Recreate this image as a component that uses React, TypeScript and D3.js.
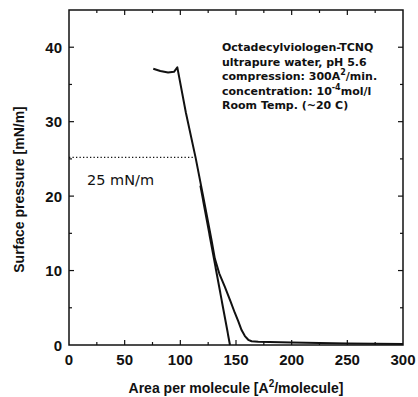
import { useEffect, useRef } from 'react';
import * as d3 from 'd3';

// compression isotherm (area in A^2/molecule, pressure in mN/m)
const isothermArea = [75.7, 82, 89, 94.3, 97.3, 105, 113.8, 121, 128, 131, 135, 140, 145, 149, 152, 155, 158, 161, 164, 170, 200, 250, 300];
const isothermPressure = [37.1, 36.8, 36.6, 36.7, 37.3, 31.2, 25.1, 19.6, 14.1, 11.6, 9.6, 7.8, 5.9, 4.3, 3.2, 2.0, 1.2, 0.7, 0.5, 0.45, 0.35, 0.2, 0.15];

// extrapolated steep part down to zero pressure
const tangentArea = [118, 144.6];
const tangentPressure = [21.4, 0];

// dotted reference level
const refPressure = 25.2;
const refAreaEnd = 112;
const refLabel = '25 mN/m';

const xTicks = [0, 50, 100, 150, 200, 250, 300];
const yTicks = [0, 10, 20, 30, 40];
const xMinorTicks = [25, 75, 125, 175, 225, 275];
const yMinorTicks = [5, 15, 25, 35];

const xTitle = 'Area per molecule [A';
const yTitle = 'Surface pressure [mN/m]';

const App = () => {
    const ref = useRef<SVGSVGElement | null>(null);

    useEffect(() => {
        const width = 418;
        const height = 397;
        const margin = { top: 10, right: 15, bottom: 52, left: 69 };

        const svg = d3.select(ref.current);
        svg.selectAll('*').remove();

        const x = d3.scaleLinear().domain([0, 300]).range([margin.left, width - margin.right]);
        const y = d3.scaleLinear().domain([0, 45]).range([height - margin.bottom, margin.top]);

        const x0 = x(0), x1 = x(300), y0 = y(0), y1 = y(45);

        // frame
        svg.append('rect')
            .attr('x', x0).attr('y', y1)
            .attr('width', x1 - x0).attr('height', y0 - y1)
            .attr('fill', 'none').attr('stroke', '#111').attr('stroke-width', 1.5);

        const ticks = svg.append('g').attr('stroke', '#111').attr('stroke-width', 1.2);
        const addX = (vals: number[], len: number) => {
            vals.forEach(v => {
                ticks.append('line').attr('x1', x(v)).attr('x2', x(v)).attr('y1', y0).attr('y2', y0 - len);
                ticks.append('line').attr('x1', x(v)).attr('x2', x(v)).attr('y1', y1).attr('y2', y1 + len);
            });
        };
        const addY = (vals: number[], len: number) => {
            vals.forEach(v => {
                ticks.append('line').attr('y1', y(v)).attr('y2', y(v)).attr('x1', x0).attr('x2', x0 + len);
                ticks.append('line').attr('y1', y(v)).attr('y2', y(v)).attr('x1', x1).attr('x2', x1 - len);
            });
        };
        addX(xTicks.slice(1, -1), 5);
        addX(xMinorTicks, 3);
        addY(yTicks.slice(1), 5);
        addY(yMinorTicks, 3);

        // tick labels
        svg.append('g')
            .attr('font-family', '"Liberation Sans", Arial, sans-serif')
            .attr('font-weight', 'bold').attr('font-size', 15).attr('fill', '#111')
            .selectAll('text').data(xTicks).join('text')
            .attr('x', d => x(d)).attr('y', y0 + 20)
            .attr('text-anchor', 'middle')
            .text(d => d);

        svg.append('g')
            .attr('font-family', '"Liberation Sans", Arial, sans-serif')
            .attr('font-weight', 'bold').attr('font-size', 15).attr('fill', '#111')
            .selectAll('text').data(yTicks).join('text')
            .attr('x', x0 - 7).attr('y', d => y(d) + 5.5)
            .attr('text-anchor', 'end')
            .text(d => d);

        // axis titles
        const xt = svg.append('text')
            .attr('x', (x0 + x1) / 2).attr('y', 393)
            .attr('text-anchor', 'middle')
            .attr('font-family', '"Liberation Sans", Arial, sans-serif')
            .attr('font-weight', 'bold').attr('font-size', 14).attr('fill', '#111');
        xt.append('tspan').text(xTitle);
        xt.append('tspan').attr('dy', -6).attr('font-size', 10).text('2');
        xt.append('tspan').attr('dy', 6).text('/molecule]');

        svg.append('text')
            .attr('transform', `translate(24,${(y0 + y1) / 2 + 12}) rotate(-90)`)
            .attr('text-anchor', 'middle')
            .attr('font-family', '"Liberation Sans", Arial, sans-serif')
            .attr('font-weight', 'bold').attr('font-size', 14).attr('fill', '#111')
            .text(yTitle);

        // reference level
        svg.append('line')
            .attr('x1', x(0)).attr('x2', x(refAreaEnd))
            .attr('y1', y(refPressure)).attr('y2', y(refPressure))
            .attr('stroke', '#111').attr('stroke-width', 1.3)
            .attr('stroke-dasharray', '1.3,2.2');

        svg.append('text')
            .attr('x', 87).attr('y', 185)
            .attr('font-family', '"DejaVu Sans", sans-serif')
            .attr('font-size', 14.5).attr('fill', '#111')
            .text(refLabel);

        const line = d3.line<[number, number]>().x(d => x(d[0])).y(d => y(d[1]));

        svg.append('path')
            .datum(d3.zip(isothermArea, isothermPressure) as [number, number][])
            .attr('d', line)
            .attr('fill', 'none').attr('stroke', '#111').attr('stroke-width', 2)
            .attr('stroke-linejoin', 'round');

        svg.append('path')
            .datum(d3.zip(tangentArea, tangentPressure) as [number, number][])
            .attr('d', line)
            .attr('fill', 'none').attr('stroke', '#111').attr('stroke-width', 2);

        // annotation block
        const note = svg.append('g')
            .attr('font-family', '"DejaVu Sans", sans-serif')
            .attr('font-weight', 'bold').attr('font-size', 11).attr('fill', '#111');
        const lx = 222;
        note.append('text').attr('x', lx).attr('y', 51).text('Octadecylviologen-TCNQ');
        note.append('text').attr('x', lx).attr('y', 65.5).text('ultrapure water, pH 5.6');
        const l3 = note.append('text').attr('x', lx).attr('y', 80);
        l3.append('tspan').text('compression: 300A');
        l3.append('tspan').attr('dy', -5).attr('font-size', 8).text('2');
        l3.append('tspan').attr('dy', 5).text('/min.');
        const l4 = note.append('text').attr('x', lx).attr('y', 94.5);
        l4.append('tspan').text('concentration: 10');
        l4.append('tspan').attr('dy', -5).attr('font-size', 8).text('-4');
        l4.append('tspan').attr('dy', 5).text('mol/l');
        note.append('text').attr('x', lx).attr('y', 109).text('Room Temp. (~20 C)');
    }, []);

    return (
        <svg ref={ref} width={418} height={397}
            style={{ position: 'absolute', left: 0, top: 0, background: '#fff' }} />
    );
};

export default App;
